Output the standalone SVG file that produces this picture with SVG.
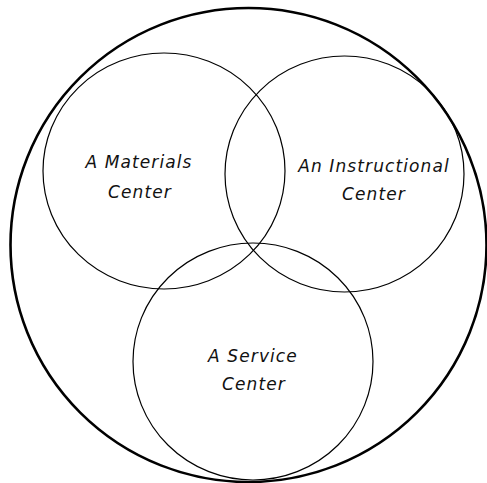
<svg xmlns="http://www.w3.org/2000/svg" width="487" height="483" viewBox="0 0 487 483">
<style>
.outer{fill:none;stroke:#000;stroke-width:2.6}
.set{fill:none;stroke:#000;stroke-width:1.2}
.lbl{font-family:"DejaVu Sans","Liberation Sans",sans-serif;font-style:oblique;font-size:17px;letter-spacing:1.1px;fill:#111;text-anchor:middle}
</style>
<rect width="487" height="483" fill="#fff"/>
<g id="universe"><ellipse class="outer" cx="248.5" cy="245" rx="238" ry="237"/></g>
<g id="materials">
<ellipse class="set" cx="164" cy="171" rx="121" ry="118"/>
<text class="lbl" x="139" y="168">A Materials</text>
<text class="lbl" x="140" y="198">Center</text>
</g>
<g id="instructional">
<ellipse class="set" cx="344.5" cy="174" rx="119.5" ry="118"/>
<text class="lbl" x="374" y="172">An Instructional</text>
<text class="lbl" x="374" y="200">Center</text>
</g>
<g id="service">
<ellipse class="set" cx="253" cy="361.5" rx="120" ry="118.5"/>
<text class="lbl" x="253" y="362">A Service</text>
<text class="lbl" x="254" y="390">Center</text>
</g>
<g id="connectors"/>
</svg>
